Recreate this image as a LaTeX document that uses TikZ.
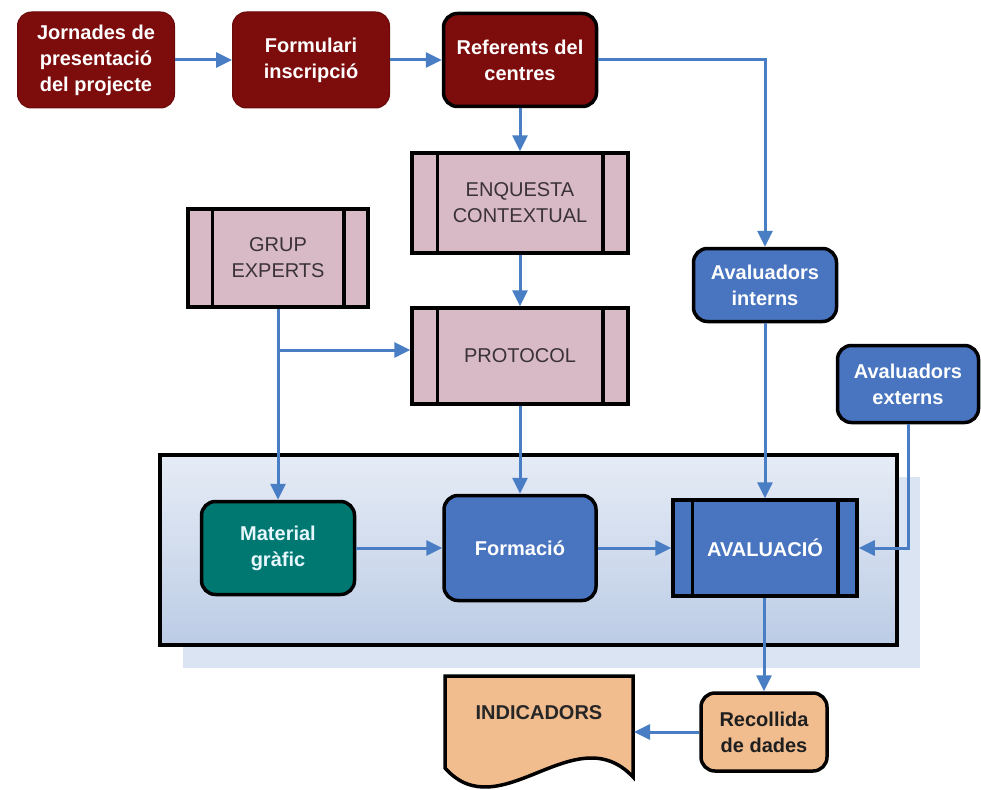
\documentclass[tikz,border=0pt]{standalone}
\usepackage{fontspec}
\setmainfont{Liberation Sans}
\usetikzlibrary{arrows.meta}

\definecolor{darkred}{RGB}{125,12,12}
\definecolor{procpink}{RGB}{216,186,198}
\definecolor{proctext}{RGB}{58,50,54}
\definecolor{boxblue}{RGB}{72,116,192}
\definecolor{boxteal}{RGB}{0,120,114}
\definecolor{boxtan}{RGB}{241,188,142}
\definecolor{flowblue}{RGB}{74,126,196}
\definecolor{panetop}{RGB}{230,236,246}
\definecolor{panebottom}{RGB}{188,204,229}
\definecolor{paneshadow}{RGB}{218,228,242}

% vertical side bars of a predefined-process box
\newcommand\sidebars[2]{%
  \draw[line width=3.5pt]
    ([xshift=#2]#1.north west) -- ([xshift=#2]#1.south west)
    ([xshift=-#2]#1.north east) -- ([xshift=-#2]#1.south east);}

\tikzset{
  txt/.style={font=\fontsize{20}{26}\selectfont, align=center, inner sep=0pt},
  redbox/.style={txt, font=\bfseries\fontsize{20}{26}\selectfont, rectangle, rounded corners=14pt,
    fill=darkred, draw=darkred!85!black, line width=1pt, text=white,
    minimum width=157pt, minimum height=96pt},
  procbox/.style={txt, rectangle, fill=procpink, draw=black, line width=3.5pt, text=proctext},
  bluebox/.style={txt, font=\bfseries\fontsize{20}{26}\selectfont, rectangle, rounded corners=14pt,
    fill=boxblue, draw=black, line width=3.5pt, text=white},
  flow/.style={draw=flowblue, line width=3pt, -{Triangle[length=16pt,width=15pt]}},
}

\begin{document}
\begin{tikzpicture}[x=1pt,y=-1pt]
\useasboundingbox[fill=white] (0,0) rectangle (981,789);

% evaluation panel with its shadow
\fill[paneshadow] (183,477) rectangle (920,668);
\draw[line width=3.5pt, top color=panetop, bottom color=panebottom] (160,455) rectangle (897,645);

% registration chain
\node[redbox] (jor) at (96,60) {Jornades de\\presentació\\del projecte};
\node[redbox] (frm) at (311,60) {Formulari\\inscripció};
\node[redbox, draw=black, line width=3.5pt, minimum width=153pt, minimum height=93pt] (ref) at (520,60) {Referents del\\centres};

% design processes
\node[procbox, minimum width=216pt, minimum height=100pt] (enq) at (520,203) {ENQUESTA\\CONTEXTUAL};
\sidebars{enq}{27pt}
\node[procbox, minimum width=180pt, minimum height=98pt] (gru) at (278,258) {GRUP\\EXPERTS};
\sidebars{gru}{26pt}
\node[procbox, minimum width=216pt, minimum height=96pt] (pro) at (520,356) {PROTOCOL};
\sidebars{pro}{27pt}

% evaluators
\node[bluebox, minimum width=143pt, minimum height=73pt] (int) at (765,285) {Avaluadors\\interns};
\node[bluebox, minimum width=141pt, minimum height=77pt] (ext) at (908,384) {Avaluadors\\externs};

% inside the panel
\node[bluebox, fill=boxteal, text=white!90!cyan, minimum width=153pt, minimum height=93pt] (mat) at (278,548) {Material\\gràfic};
\node[bluebox, minimum width=152pt, minimum height=105pt] (fmc) at (520,548) {Formació};
\node[procbox, fill=boxblue, text=white, font=\bfseries\fontsize{20}{26}\selectfont,
  minimum width=184pt, minimum height=96pt] (ava) at (765,548) {AVALUACIÓ};
\sidebars{ava}{21pt}

% data collection and indicators
\node[bluebox, fill=boxtan, text=black!88, minimum width=126pt, minimum height=78pt] (rec) at (764,732) {Recollida\\de dades};
\draw[line width=3.5pt, fill=boxtan]
  (445,676) -- (633,676) -- (633,777)
  .. controls (575,715) and (500,830) .. (445,768) -- cycle;
\node[txt, font=\bfseries\fontsize{20}{26}\selectfont, text=black!85, minimum width=190pt, outer sep=0pt] (ind) at (539,713) {INDICADORS};

% connectors
\draw[flow] (jor) -- (frm);
\draw[flow] (frm) -- (ref);
\draw[flow] (ref.east) -| (int.north);
\draw[flow] (ref) -- (enq);
\draw[flow] (enq) -- (pro);
\coordinate (br) at (278,350);
\draw[flow] (gru.south) -- (mat.north);
\draw[flow] (br) -- (br -| pro.west);
\draw[flow] (pro) -- (fmc);
\draw[flow] (int) -- (ava);
\draw[flow] (ext.south) |- (ava.east);
\draw[flow] (mat) -- (fmc);
\draw[flow] (fmc) -- (ava);
\draw[flow] (ava.south -| rec.north) -- (rec.north);
\draw[flow] (rec.west) -- (rec.west -| ind.east);
\end{tikzpicture}
\end{document}
